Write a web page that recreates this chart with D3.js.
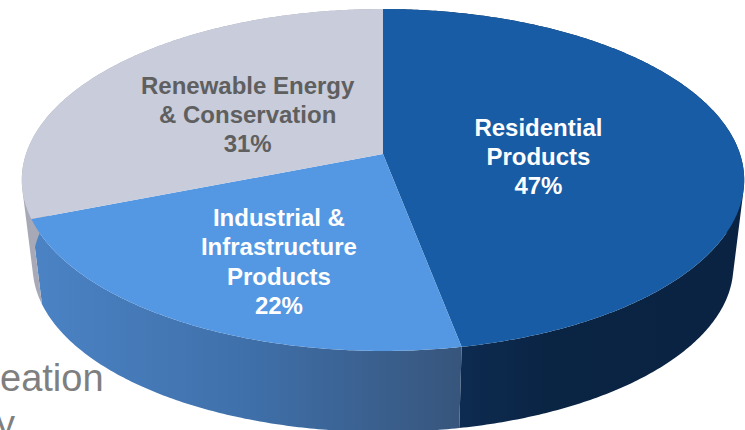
<!DOCTYPE html>
<html>
<head>
<meta charset="utf-8">
<script src="https://cdn.jsdelivr.net/npm/d3@7"></script>
<style>
  html, body { margin: 0; padding: 0; background: #fff; overflow: hidden; }
  text { font-family: "Liberation Sans", Arial, sans-serif; }
</style>
</head>
<body>
<div id="chart"></div>
<script>
const categories = ["Residential Products", "Industrial & Infrastructure Products", "Renewable Energy & Conservation"];
const shares = [47, 22, 31];
const labelLines = [
  ["Residential", "Products", "47%"],
  ["Industrial &", "Infrastructure", "Products", "22%"],
  ["Renewable Energy", "& Conservation", "31%"]
];
const backgroundWords = ["eation", "y"];

const width = 745, height = 430;

// the pie is a true circle seen in perspective, so slices in front look bigger
const pie3d = {cx: 383, cy: 154, a: 357, b: 167, p: 0.152, depthY: 87, depthScale: 0.97};

const topColours = ["#175ca4", "#5497e2", "#c8ccdb"];
const wallColours = ["url(#wallDark)", "url(#wallBlue)", "#a8a9b6"];
const labelColours = ["#ffffff", "#ffffff", "#5f5f5f"];
const labelPlace = [{r: 0.44, dy: 18}, {r: 0.56, dy: 27.5}, {r: 0.477, dy: 12}];

function project(angle, r = 1, bottom = false)
{
  const u = r * Math.sin(angle), v = -r * Math.cos(angle);
  const w = 1 - pie3d.p * v;
  const s = bottom ? pie3d.depthScale : 1;
  return [
    pie3d.cx + s * pie3d.a * u / w,
    pie3d.cy + (bottom ? pie3d.depthY : 0) + s * pie3d.b * v / w
  ];
}

function arcPoints(start, end, bottom)
{
  const steps = Math.max(2, Math.ceil((end - start) / 0.01));
  return d3.range(steps + 1).map(i => project(start + (end - start) * i / steps, 1, bottom));
}

const line = d3.line();

// one small quad per step: the union also fills the silhouette between top and bottom rim
function wallPath(d)
{
  const upper = arcPoints(d.startAngle, d.endAngle, false);
  const lower = arcPoints(d.startAngle, d.endAngle, true);
  return d3.range(upper.length - 1)
    .map(i => {
      const quad = [upper[i], upper[i + 1], lower[i + 1], lower[i]];
      return line(d3.polygonArea(quad) < 0 ? quad.reverse() : quad) + "Z";
    })
    .join("");
}

const svg = d3.select("#chart").append("svg")
  .attr("width", width)
  .attr("height", height);

const defs = svg.append("defs");

function addGradient(id, x1, x2, stops)
{
  const g = defs.append("linearGradient")
    .attr("id", id)
    .attr("gradientUnits", "userSpaceOnUse")
    .attr("x1", x1).attr("x2", x2).attr("y1", 0).attr("y2", 0);
  stops.forEach(([o, c]) => g.append("stop").attr("offset", o).attr("stop-color", c));
}
addGradient("wallBlue", 31, 462, [[0, "#4b83c5"], [0.5, "#3f70aa"], [1, "#37557c"]]);
addGradient("wallDark", 462, 744, [[0, "#0d2b50"], [0.3, "#0a2444"], [1, "#0a2342"]]);

// text sitting behind the pie, cut off by the edges of the picture like in the slide it came from
svg.selectAll("text.bg")
  .data(backgroundWords)
  .join("text")
  .attr("class", "bg")
  .attr("x", (d, i) => i * -4)
  .attr("y", (d, i) => 391 + i * 46)
  .attr("font-size", 38)
  .attr("fill", "#7f7f7f")
  .text(d => d);

const slices = d3.pie().sort(null).value(d => d)(shares);

// side walls first, top faces go over them
svg.append("g").selectAll("path")
  .data(slices)
  .join("path")
  .attr("d", wallPath)
  .attr("fill", (d, i) => wallColours[i]);

svg.append("g").selectAll("path")
  .data(slices)
  .join("path")
  .attr("d", d => line([
    project(0, 0),
    ...arcPoints(d.startAngle, d.endAngle, false)
  ]) + "Z")
  .attr("fill", (d, i) => topColours[i]);

const labels = svg.append("g").selectAll("text")
  .data(slices)
  .join("text")
  .attr("text-anchor", "middle")
  .attr("font-size", 24)
  .attr("font-weight", "bold")
  .attr("fill", (d, i) => labelColours[i]);

labels.each(function(d, i) {
  const place = labelPlace[i];
  const [x, y] = project((d.startAngle + d.endAngle) / 2, place.r);
  const lines = labelLines[i];
  d3.select(this).selectAll("tspan")
    .data(lines)
    .join("tspan")
    .attr("x", x)
    .attr("y", (_, k) => y + place.dy + (k - (lines.length - 1) / 2) * 29.2)
    .text(t => t);
});
</script>
</body>
</html>
